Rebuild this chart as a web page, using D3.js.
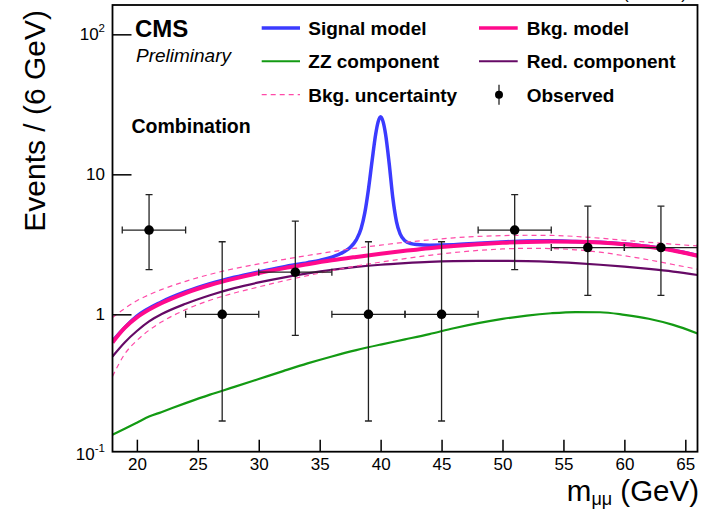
<!DOCTYPE html>
<html><head><meta charset="utf-8">
<script src="https://cdn.jsdelivr.net/npm/d3@7"></script>
<style>
body{margin:0;background:#fff}
text{font-family:"Liberation Sans",Arial,Helvetica,sans-serif;fill:#000}
</style>
</head><body><svg id="c" width="702" height="509"></svg>
<script>
// ---------------- data ----------------
const massGrid = [18,19,20,21,22,24,26,28,30,32,34,36,38,40,42,44,46,48,50,52,54,56,58,60,62,64,66];
const bkgModel = [0.63,0.80,0.95,1.08,1.20,1.42,1.62,1.80,1.97,2.13,2.28,2.43,2.57,2.71,2.84,2.97,3.08,3.17,3.24,3.29,3.31,3.30,3.26,3.17,3.04,2.86,2.62];
const bkgUp    = [0.95,1.10,1.25,1.38,1.50,1.72,1.93,2.12,2.29,2.46,2.63,2.80,2.97,3.12,3.27,3.40,3.52,3.60,3.65,3.67,3.66,3.60,3.50,3.38,3.27,3.17,3.08];
const bkgDown  = [0.36,0.52,0.65,0.77,0.88,1.08,1.26,1.42,1.57,1.73,1.89,2.05,2.21,2.36,2.50,2.64,2.76,2.86,2.93,2.96,2.95,2.89,2.78,2.62,2.45,2.27,2.10];
const redComp  = [0.50,0.63,0.76,0.89,1.00,1.19,1.37,1.54,1.69,1.83,1.96,2.08,2.18,2.26,2.32,2.37,2.40,2.41,2.41,2.40,2.37,2.32,2.26,2.19,2.11,2.02,1.91];
const zzComp   = [0.138,0.152,0.168,0.186,0.200,0.232,0.267,0.303,0.345,0.393,0.446,0.500,0.555,0.608,0.662,0.722,0.795,0.865,0.928,0.980,1.018,1.038,1.035,0.992,0.930,0.840,0.730];

const sigMass  = [18,20,22,24,26,28,30,32,34,35,36,37,37.5,38,38.4,38.7,39,39.3,39.6,39.8,40,40.2,40.4,40.7,41,41.3,41.6,42,42.5,43,44,46,48,50,52,54,56,58,60,62,64,66];
const sigModel = [0.645,0.97,1.225,1.45,1.655,1.84,2.01,2.18,2.34,2.43,2.56,2.8,3.0,3.4,4.1,5.3,7.8,12.5,19.5,23.8,25.8,23.8,19.5,12.0,6.8,4.6,3.75,3.35,3.2,3.15,3.12,3.14,3.22,3.29,3.34,3.35,3.31,3.27,3.18,3.05,2.87,2.63];

const obsMass  = [21,27,33,39,45,51,57,63];
const obsCount = [4,1,2,1,1,4,3,3];
const obsLow   = [2.086,0.173,0.708,0.173,0.173,2.086,1.367,1.367];
const obsHigh  = [7.163,3.300,4.638,3.300,3.300,7.163,5.918,5.918];
const obsXLow  = [2.2,3,3,3,3,3,3,3];
const obsXHigh = [3,3,3,3,3,3,3,3];

const xMajor = [20,25,30,35,40,45,50,55,60,65];
const yLabels = [{v:0.1,b:"10",e:"-1"},{v:1,b:"1",e:""},{v:10,b:"10",e:""},{v:100,b:"10",e:"2"}];

// ---------------- setup ----------------
const svg = d3.select("#c");
const F = {left:112.5, right:697.5, top:5, bottom:451.7};
const x = d3.scaleLinear().domain([18,66]).range([F.left,F.right]);
const y = d3.scaleLog().domain([0.1044,162]).range([F.bottom,F.top]);

const COL = {sig:"#3b3bff", bkg:"#ff0a8c", unc:"#ff4aa8", red:"#660a66", zz:"#139a13"};

svg.append("clipPath").attr("id","clip").append("rect")
  .attr("x",F.left).attr("y",F.top).attr("width",F.right-F.left).attr("height",F.bottom-F.top);

const plot = svg.append("g").attr("clip-path","url(#clip)");
const line = (xs, ys) => d3.line().x((d,i)=>x(xs[i])).y(d=>y(d)).curve(d3.curveMonotoneX)(ys);

plot.append("path").attr("d",line(massGrid,zzComp)).attr("fill","none").attr("stroke",COL.zz).attr("stroke-width",2.2);
plot.append("path").attr("d",line(sigMass,sigModel)).attr("fill","none").attr("stroke",COL.sig).attr("stroke-width",3.5);
plot.append("path").attr("d",line(massGrid,bkgModel)).attr("fill","none").attr("stroke",COL.bkg).attr("stroke-width",4);
plot.append("path").attr("d",line(massGrid,redComp)).attr("fill","none").attr("stroke",COL.red).attr("stroke-width",2.2);
[bkgUp,bkgDown].forEach(a=>plot.append("path").attr("d",line(massGrid,a)).attr("fill","none")
  .attr("stroke",COL.unc).attr("stroke-width",1.2).attr("stroke-dasharray","5,4"));

// observed points
const obs = plot.append("g").attr("stroke","#222").attr("stroke-width",1.3);
obsMass.forEach((m,i)=>{
  const cx=x(m), cy=y(obsCount[i]);
  const x0=x(m-obsXLow[i]), x1=x(m+obsXHigh[i]), y0=y(obsLow[i]), y1=y(obsHigh[i]);
  obs.append("line").attr("x1",x0).attr("x2",x1).attr("y1",cy).attr("y2",cy);
  obs.append("line").attr("x1",cx).attr("x2",cx).attr("y1",y0).attr("y2",y1);
  [x0,x1].forEach(xx=>obs.append("line").attr("x1",xx).attr("x2",xx).attr("y1",cy-3.5).attr("y2",cy+3.5));
  [y0,y1].forEach(yy=>obs.append("line").attr("x1",cx-3.5).attr("x2",cx+3.5).attr("y1",yy).attr("y2",yy));
  obs.append("circle").attr("cx",cx).attr("cy",cy).attr("r",4.8).attr("fill","#000").attr("stroke","none");
});

// ---------------- axes ----------------
const xMinor = d3.range(19,66).filter(v=>v%5!==0);
const gx = svg.append("g").attr("transform",`translate(0,${F.bottom})`);
gx.call(d3.axisBottom(x).tickValues(xMinor).tickSize(-6).tickSizeOuter(0).tickFormat(""));
gx.call(d3.axisBottom(x).tickValues(xMajor).tickSize(-12).tickSizeOuter(0).tickFormat(d3.format("d")).tickPadding(6.5));
gx.selectAll("path.domain").remove();
gx.selectAll("line").attr("stroke","#000").attr("stroke-width",1.5);
gx.selectAll("text").attr("font-size",17).attr("font-family","Liberation Sans, Arial, sans-serif");

const yMinor=[];
[0.1,1,10,100].forEach(d=>{for(let k=2;k<=9;k++){const v=d*k; if(v>0.1044&&v<162) yMinor.push(v);}});
const gy = svg.append("g").attr("transform",`translate(${F.left},0)`);
gy.call(d3.axisLeft(y).tickValues(yMinor).tickSize(-9).tickSizeOuter(0).tickFormat(""));
gy.call(d3.axisLeft(y).tickValues([1,10,100]).tickSize(-19).tickSizeOuter(0).tickFormat(""));
gy.selectAll("path.domain").remove();
gy.selectAll("line").attr("stroke","#000").attr("stroke-width",1.5);

yLabels.forEach(l=>{
  const t = svg.append("text").attr("x",105).attr("y",y(l.v)).attr("dy","0.36em")
    .attr("text-anchor","end").attr("font-size",17);
  t.append("tspan").text(l.b);
  if(l.e) t.append("tspan").attr("font-size",11.5).attr("dy","-0.75em").text(l.e);
});

// frame
svg.append("rect").attr("x",F.left).attr("y",F.top).attr("width",F.right-F.left).attr("height",F.bottom-F.top)
  .attr("fill","none").attr("stroke","#000").attr("stroke-width",1.8);

// axis titles
const xt = svg.append("text").attr("x",699).attr("y",501).attr("text-anchor","end").attr("font-size",29.5);
xt.append("tspan").text("m");
xt.append("tspan").attr("font-size",18).attr("dy",4).text("μμ");
xt.append("tspan").attr("dy",-4).text(" (GeV)");

svg.append("text").attr("transform","translate(45,10) rotate(-90)").attr("text-anchor","end")
  .attr("font-size",30).text("Events / (6 GeV)");

svg.append("text").attr("x",687).attr("y",-1).attr("text-anchor","end").attr("font-size",17).text("(13 TeV)");

// labels
svg.append("text").attr("x",135).attr("y",36.7).attr("font-size",24).attr("font-weight","bold").text("CMS");
svg.append("text").attr("x",136).attr("y",61.5).attr("font-size",19).attr("font-style","italic").text("Preliminary");
svg.append("text").attr("x",131.5).attr("y",133.3).attr("font-size",19.5).attr("font-weight","bold").text("Combination");

// legend
const legNames = ["Signal model","Bkg. model","ZZ component","Red. component","Bkg. uncertainty","Observed"];
const legKind  = ["sig","bkg","zz","red","unc","obs"];
const legCols  = [[261.7,300,308.3],[479,517.7,526.7]];
const legRows  = [35,68.3,101.7];
legNames.forEach((name,i)=>{
  const c = legCols[i%2], r = legRows[Math.floor(i/2)], k = legKind[i], ly = r-7;
  if(k==="obs"){
    svg.append("line").attr("x1",499).attr("x2",499).attr("y1",ly-10).attr("y2",ly+10).attr("stroke","#222").attr("stroke-width",1.3);
    svg.append("circle").attr("cx",499).attr("cy",ly).attr("r",4).attr("fill","#000");
  } else {
    const w = {sig:3.5,bkg:3.5,zz:2,red:2,unc:1.2}[k];
    const l = svg.append("line").attr("x1",c[0]).attr("x2",c[1]).attr("y1",ly).attr("y2",ly).attr("stroke",COL[k]).attr("stroke-width",w);
    if(k==="unc") l.attr("stroke-dasharray","5,4");
  }
  svg.append("text").attr("x",c[2]).attr("y",r).attr("font-size",19).attr("font-weight","bold").text(name);
});
</script>
</body></html>
